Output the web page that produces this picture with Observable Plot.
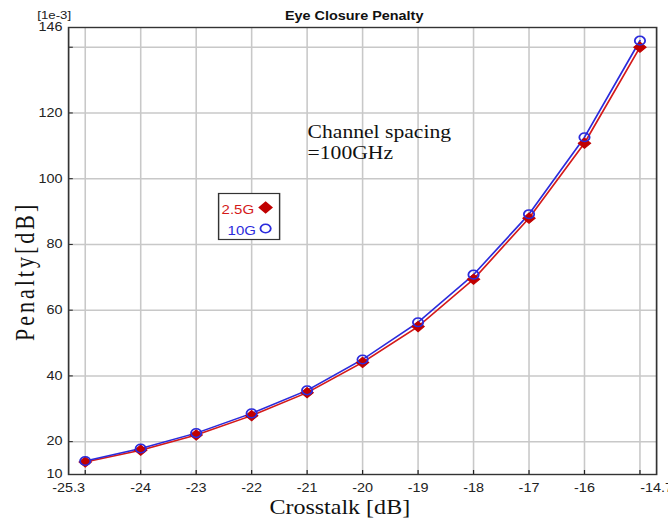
<!DOCTYPE html>
<html>
<head>
<meta charset="utf-8">
<script src="https://cdn.jsdelivr.net/npm/d3@7"></script>
<script src="https://cdn.jsdelivr.net/npm/@observablehq/plot@0.6"></script>
<style>
  body { margin: 0; background: white; }
  #chart { width: 668px; height: 521px; overflow: hidden; }
</style>
</head>
<body>
<div id="chart"></div>
<script>
// ---- data ----
const crosstalk = [-25, -24, -23, -22, -21, -20, -19, -18, -17, -16, -15];
const penalty25G = [13.8, 17.4, 22.0, 27.9, 34.9, 44.1, 55.0, 69.4, 88.0, 110.8, 140.0];
const penalty10G = [14.1, 17.9, 22.6, 28.6, 35.6, 45.0, 56.3, 70.8, 89.2, 112.6, 142.0];
const xTickLabels = [-25.3, -24, -23, -22, -21, -20, -19, -18, -17, -16, -14.7];
const xGrid = [-25, -24, -23, -22, -21, -20, -19, -18, -17, -16, -15];
const yTickLabels = [10, 20, 40, 60, 80, 100, 120, 146];
const yGrid = [20, 40, 60, 80, 100, 120, 140];
const seriesNames = ["2.5G", "10G"];

const rows25 = crosstalk.map((x, i) => ({x, y: penalty25G[i]}));
const rows10 = crosstalk.map((x, i) => ({x, y: penalty10G[i]}));

// layout (the reference is horizontally stretched)
const sx = 668 / 556;
const W = 556, H = 521;
const mL = 68 / sx, mR = 12 / sx, mT = 27, mB = 47;
const fw = W - mL - mR, fh = H - mT - mB;
const RED = "#d41a1a", DRED = "#c00000", BLUE = "#2b2bdc";
const serif = "'Liberation Serif', 'Times New Roman', serif";

const plot = Plot.plot({
  width: W, height: H,
  marginLeft: mL, marginRight: mR, marginTop: mT, marginBottom: mB,
  style: {fontFamily: "'Liberation Sans', Arial, sans-serif", background: "white", color: "#222"},
  x: {domain: [-25.3, -14.7]},
  y: {domain: [10, 146]},
  marks: [
    Plot.gridX(xGrid, {stroke: "#c8c8c8", strokeOpacity: 1, strokeWidth: 1.3}),
    Plot.gridY(yGrid, {stroke: "#c8c8c8", strokeOpacity: 1, strokeWidth: 1.5}),
    Plot.ruleX(xGrid, {stroke: "#222", insetTop: fh - 4}),
    Plot.ruleY(yGrid, {stroke: "#222", insetRight: fw - 4}),
    Plot.frame({stroke: "#333", strokeWidth: 1.4}),
    Plot.axisX(xTickLabels, {tickSize: 0, tickPadding: 9, tickFormat: d => String(d), label: null, fontSize: 12}),
    Plot.axisY(yTickLabels, {tickSize: 0, tickPadding: 5, tickFormat: d => String(d), label: null, fontSize: 12}),
    Plot.line(rows25, {x: "x", y: "y", stroke: RED, strokeWidth: 1.5}),
    Plot.line(rows10, {x: "x", y: "y", stroke: BLUE, strokeWidth: 1.5}),
    Plot.dot(rows25, {x: "x", y: "y", symbol: "diamond2", fill: DRED, stroke: DRED, strokeWidth: 1, r: 4.6}),
    Plot.dot(rows10, {x: "x", y: "y", symbol: "circle", fill: "none", stroke: BLUE, strokeWidth: 1.5, r: 4.3}),
    // titles
    Plot.text(["Eye Closure Penalty"], {text: d => d, frameAnchor: "top", dx: -7, dy: -16, fontWeight: "bold", fontSize: 12, fill: "#111"}),
    Plot.text(["[1e-3]"], {text: d => d, frameAnchor: "top-left", textAnchor: "start", dx: -26, dy: -16, fontSize: 11, fill: "#222"}),
    Plot.text(["Crosstalk [dB]"], {text: d => d, frameAnchor: "bottom", dx: -19, dy: 39, fontFamily: serif, fontSize: 20, fill: "#111"}),
    Plot.text(["Penalty[dB]"], {text: d => d, frameAnchor: "left", rotate: -90, dx: -36, dy: 90, fontFamily: serif, fontSize: 22, fill: "#111"}),
    // annotation
    Plot.text(["Channel spacing\n=100GHz"], {text: d => d, frameAnchor: "top-left", textAnchor: "start", lineAnchor: "top", lineHeight: 1.2, dx: (307 - 68) / sx, dy: 95, fontFamily: serif, fontSize: 18, fill: "#111"}),
    // legend
    Plot.frame({fill: "white", stroke: "#333", strokeWidth: 1.2, insetLeft: (218 - 68) / sx, insetRight: fw - (279 - 68) / sx, insetTop: 193 - mT, insetBottom: fh - (239 - mT)}),
    Plot.text([seriesNames[0]], {text: d => d, frameAnchor: "top-left", textAnchor: "start", dx: (221 - 68) / sx, dy: 205 - mT, fontSize: 12.5, fill: RED}),
    Plot.text([seriesNames[1]], {text: d => d, frameAnchor: "top-left", textAnchor: "start", dx: (227 - 68) / sx, dy: 226 - mT, fontSize: 12.5, fill: BLUE}),
    Plot.dot([seriesNames[0]], {frameAnchor: "top-left", dx: (265 - 68) / sx, dy: 207 - mT, symbol: "diamond2", fill: DRED, stroke: DRED, r: 4.6}),
    Plot.dot([seriesNames[1]], {frameAnchor: "top-left", dx: (265 - 68) / sx, dy: 228 - mT, symbol: "circle", fill: "none", stroke: BLUE, strokeWidth: 1.5, r: 4.3})
  ]
});
d3.select(plot).selectAll("text").filter(function() { return this.textContent === "Penalty[dB]"; }).attr("letter-spacing", 3);
plot.setAttribute("width", 668);
plot.setAttribute("height", 521);
plot.setAttribute("preserveAspectRatio", "none");
plot.style.width = "668px";
plot.style.height = "521px";
plot.style.maxWidth = "none";
document.getElementById("chart").appendChild(plot);
</script>
</body>
</html>
